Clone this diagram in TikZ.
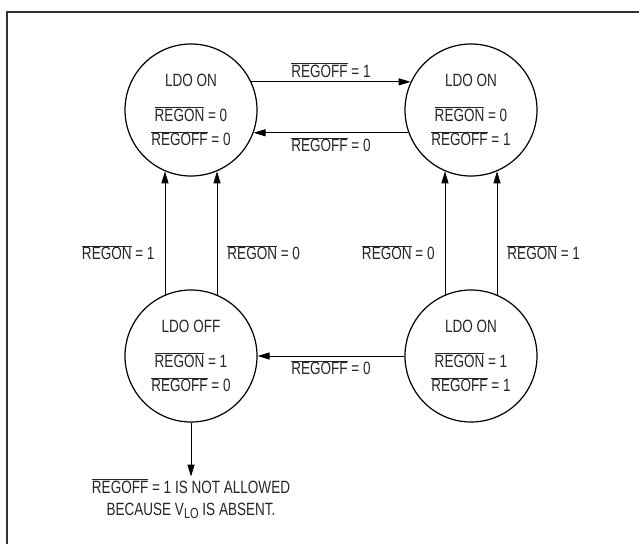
\documentclass[tikz,border=0pt]{standalone}
\usepackage{fontspec}
\setmainfont[FakeStretch=0.76]{Liberation Sans}
\usetikzlibrary{arrows.meta, positioning}
\newcommand{\ovl}[1]{$\overline{\mbox{#1}}$}
\newcommand{\lowsub}[1]{\raisebox{-3.5pt}{\fontsize{14.5}{14.5}\selectfont #1}}

\begin{document}
\begin{tikzpicture}[x=1pt, y=-1pt, >={Triangle[length=12pt,width=7pt]},
    every node/.style={align=center, text=black!85},
    state/.style={draw, circle, line width=1.2pt, minimum size=132pt, inner sep=0pt, font=\fontsize{17.8}{24.5}\selectfont},
    lbl/.style={font=\fontsize{17.8}{22}\selectfont, inner sep=2pt},
    edge/.style={->, line width=0.9pt}]
    \useasboundingbox (0,0) rectangle (639,544);
    \draw[line width=1.6pt, black!80] (639,12) -| (7,544);

    \node[state] (on00) at ({191},{110}) {LDO ON\\[10pt]\ovl{REGON} = 0\\\ovl{REGOFF} = 0};
    \node[state] (on01) at ({471},{110}) {LDO ON\\[10pt]\ovl{REGON} = 0\\\ovl{REGOFF} = 1};
    \node[state] (off) at ({191},{356}) {LDO OFF\\[10pt]\ovl{REGON} = 1\\\ovl{REGOFF} = 0};
    \node[state] (on11) at ({471},{356}) {LDO ON\\[10pt]\ovl{REGON} = 1\\\ovl{REGOFF} = 1};

    \draw[edge] (on00.25) -- node[lbl, above=2pt]{\ovl{REGOFF} = 1} (on01.155);
    \draw[edge] (on01.200) -- node[lbl, below=2pt]{\ovl{REGOFF} = 0} (on00.340);

    \draw[edge] (off.113) -- node[lbl, left=8pt, pos=0.34]{\ovl{REGON} = 1} (on00.247);
    \draw[edge] (off.67) -- node[lbl, right=8pt, pos=0.34]{\ovl{REGON} = 0} (on00.293);
    \draw[edge] (on11.113) -- node[lbl, left=8pt, pos=0.34]{\ovl{REGON} = 0} (on01.247);
    \draw[edge] (on11.67) -- node[lbl, right=8pt, pos=0.34]{\ovl{REGON} = 1} (on01.293);

    \draw[edge] (on11.west) -- node[lbl, below=2pt]{\ovl{REGOFF} = 0} (off.east);

    \node[lbl, below=54pt of off] (note) {\ovl{REGOFF} = 1 IS NOT ALLOWED\\BECAUSE V\lowsub{LO} IS ABSENT.};
    \draw[edge] (off) -- (note);
\end{tikzpicture}
\end{document}
